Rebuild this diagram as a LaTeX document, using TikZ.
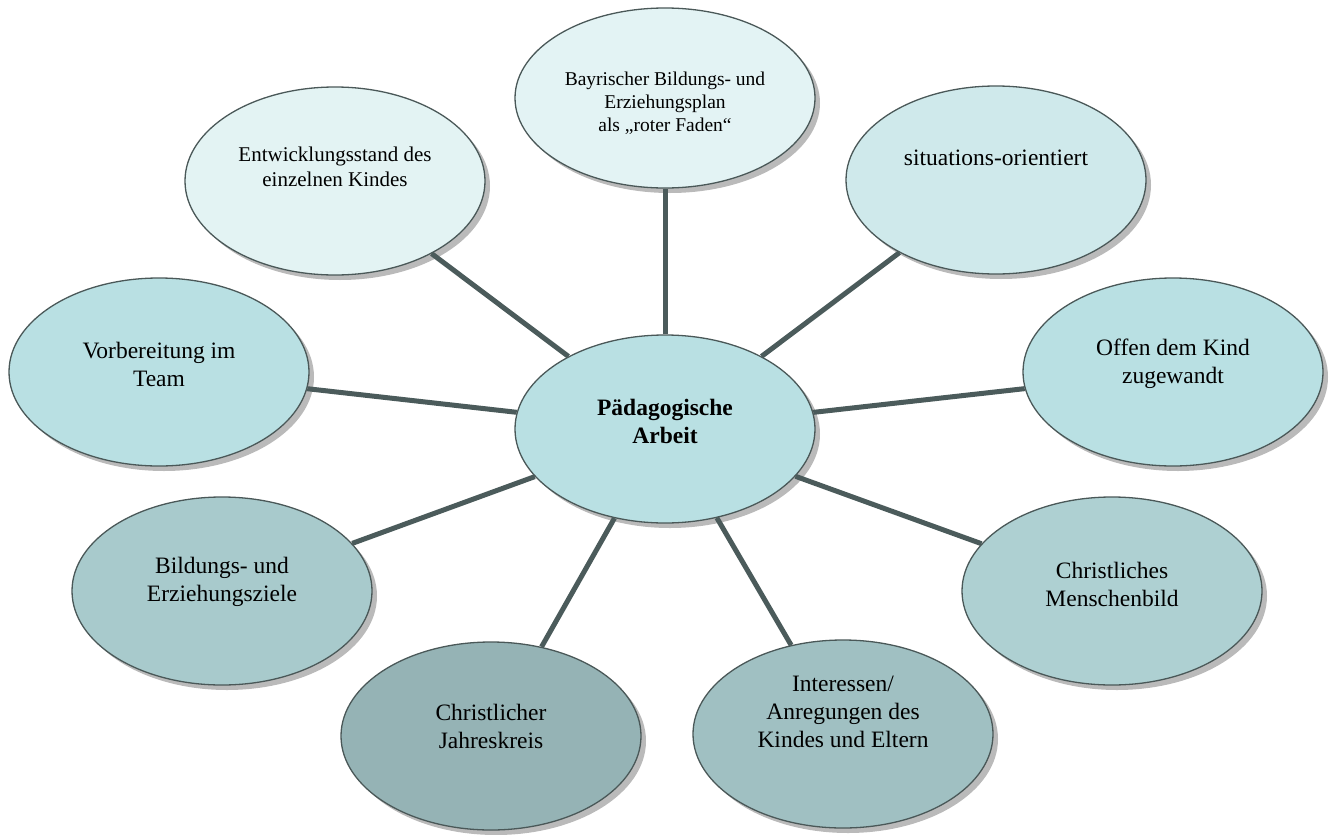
\documentclass[tikz,border=0pt]{standalone}
\usepackage{fontspec}
\setmainfont{Liberation Serif}
\usetikzlibrary{shapes.geometric,shadows}
\definecolor{cB}{HTML}{E3F3F4}
\definecolor{cE}{HTML}{E3F3F3}
\definecolor{cS}{HTML}{CFE9EB}
\definecolor{cV}{HTML}{B9E0E3}
\definecolor{cC}{HTML}{AED0D2}
\definecolor{cBi}{HTML}{A8CACC}
\definecolor{cI}{HTML}{A0C0C2}
\definecolor{cJ}{HTML}{95B3B5}
\definecolor{outl}{HTML}{4A5858}
\definecolor{conn}{HTML}{4B5B5B}
\tikzset{
  bubble/.style={ellipse, draw=outl, line width=1.3pt, minimum width=300pt, minimum height=188pt, inner sep=0pt,
    drop shadow={shadow xshift=5pt, shadow yshift=-5pt, fill=black!27, opacity=1}},
  txt/.style={align=center, font=\fontsize{23.5}{28}\selectfont, inner sep=0pt},
  link/.style={draw=conn, line width=5pt}
}
\begin{document}
\begin{tikzpicture}[x=1pt,y=-1pt]
\useasboundingbox (0,0) rectangle (1336,835);
% satellites and centre
\node[bubble, fill=cV] (P) at (665,429) {};
\node[bubble, fill=cB, minimum height=180pt] (B) at (665,98) {};
\node[bubble, fill=cE] (E) at (335,181) {};
\node[bubble, fill=cS] (S) at (996,180) {};
\node[bubble, fill=cV] (V) at (159,372) {};
\node[bubble, fill=cV] (O) at (1173,372) {};
\node[bubble, fill=cBi] (Bi) at (222,591) {};
\node[bubble, fill=cC] (C) at (1112,591) {};
\node[bubble, fill=cJ] (J) at (491,736) {};
\node[bubble, fill=cI] (I) at (843,734) {};
% connectors
\foreach \n in {B,E,S,V,O,Bi,C,J,I} \draw[link] (P) -- (\n);
% texts
\node[txt, font=\bfseries\fontsize{23.5}{28}\selectfont] (tP) at (665,421) {Pädagogische\\Arbeit};
\node[txt, font=\fontsize{19.5}{23}\selectfont] (tB) at (665,103) {Bayrischer Bildungs- und\\Erziehungsplan\\als „roter Faden“};
\node[txt, font=\fontsize{21}{25}\selectfont] (tE) at (335,167) {Entwicklungsstand des\\einzelnen Kindes};
\node[txt] (tS) at (996,158) {situations-orientiert};
\node[txt] (tV) at (159,364) {Vorbereitung im\\Team};
\node[txt] (tO) at (1173,364) {Offen dem Kind\\zugewandt};
\node[txt] (tBi) at (222,582) {Bildungs- und\\Erziehungsziele};
\node[txt] (tC) at (1112,584) {Christliches\\Menschenbild};
\node[txt] (tJ) at (491,726) {Christlicher\\Jahreskreis};
\node[txt] (tI) at (843,712) {Interessen/\\Anregungen des\\Kindes und Eltern};
\end{tikzpicture}
\end{document}
